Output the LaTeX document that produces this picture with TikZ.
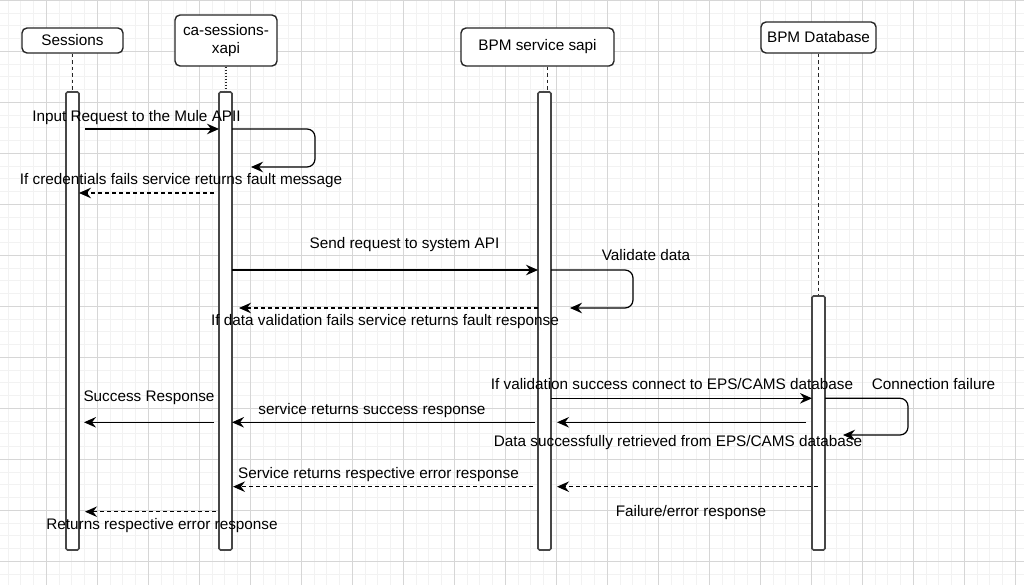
\documentclass[tikz,border=0pt]{standalone}
\usepackage{fontspec}
\setmainfont{Liberation Sans}
\usetikzlibrary{arrows.meta}

\tikzset{
  gridminor/.style={draw=black!5, line width=1pt},
  gridmajor/.style={draw=black!16, line width=1pt},
  actor/.style={draw=black!85, line width=1.4pt, rounded corners=5pt, fill=white,
    font=\fontsize{15.3}{18}\selectfont, align=center, inner sep=0pt},
  bar/.style={draw=black!72, line width=1.6pt, fill=white, rounded corners=1.5pt,
    minimum width=13pt, inner sep=0pt},
  lifeline/.style={draw=black!85, line width=1.1pt, dash pattern=on 3.5pt off 3pt},
  msg/.style={draw=black, line width=1.2pt, -{Stealth[length=12pt,width=10.5pt,inset=4pt]}},
  reply/.style={msg, dash pattern=on 4pt off 3pt},
  selfmsg/.style={msg, rounded corners=8pt},
  lbl/.style={font=\fontsize{15.3}{18}\selectfont, inner sep=0pt, anchor=base, text=black},
}

\begin{document}
\begin{tikzpicture}[x=1pt, y=-1pt]
        % === CANVAS AND GRID ===
        \useasboundingbox (0,0) rectangle (1024,585);
        \fill[white] (0,0) rectangle (1024,585);
        \foreach \i in {0,...,79} \draw[gridminor] ({8.05+12.75*\i},0) -- ({8.05+12.75*\i},585);
        \foreach \j in {0,...,45} \draw[gridminor] (0,{0.3+12.75*\j}) -- (1024,{0.3+12.75*\j});
        \foreach \i in {0,...,19} \draw[gridmajor] ({46.3+51*\i},0) -- ({46.3+51*\i},585);
        \foreach \j in {0,...,11} \draw[gridmajor] (0,{0.3+51*\j}) -- (1024,{0.3+51*\j});

        % === PARTICIPANTS ===
        \node[actor, minimum width=101pt, minimum height=25pt] (sess) at (72.5,40.5) {Sessions};
        \node[actor, minimum width=102pt, minimum height=51pt] (xapi) at (226,40.5) {ca-sessions-\\xapi};
        \node[actor, minimum width=153pt, minimum height=38pt] (sapi) at (537.5,47) {BPM service sapi};
        \node[actor, minimum width=115pt, minimum height=31pt] (db) at (818.5,37.5) {BPM Database};

        % === LIFELINES ===
        \coordinate (sesstop) at (72.5,92);
        \coordinate (xapitop) at (226,92);
        \coordinate (sapitop) at (547.5,92);
        \coordinate (dbtop) at (818.5,296);
        \draw[lifeline] (sess.south -| sesstop) -- (sesstop);
        \draw[lifeline, dash pattern=on 1pt off 2pt] (xapi.south -| xapitop) -- (xapitop);
        \draw[lifeline] (sapi.south -| sapitop) -- (sapitop);
        \draw[lifeline] (db.south -| dbtop) -- (dbtop);

        % === ACTIVATION BARS ===
        \node[bar, minimum height=458pt] (sessbar) at (72.5,321) {};
        \node[bar, minimum height=458pt] (xapibar) at (225.5,321) {};
        \node[bar, minimum height=458pt] (sapibar) at (544.5,321) {};
        \node[bar, minimum height=254pt] (dbbar) at (818.5,423) {};

        % === INPUT REQUEST ===
        \coordinate (in1) at (85,129);
        \coordinate (in2) at (219,129);
        \draw[msg] (in1) -- (in2);
        \node[lbl] (tin) at (136.5,121.7) {Input Request to the Mule APII};

        % === CREDENTIAL CHECK ===
        \coordinate (chk1) at (232,129);
        \coordinate (chk2) at (251,167);
        \draw[selfmsg] (chk1) -- ++(83,0) |- (chk2);
        \coordinate (flt1) at (214,193);
        \coordinate (flt2) at (79,193);
        \draw[reply] (flt1) -- (flt2);
        \node[lbl] (tflt) at (181,185) {If credentials fails service returns fault message};

        % === SYSTEM API REQUEST ===
        \coordinate (sys1) at (232,270);
        \coordinate (sys2) at (538,270);
        \draw[msg] (sys1) -- (sys2);
        \node[lbl] (tsys) at (404.5,248.3) {Send request to system API};

        % === VALIDATE DATA ===
        \coordinate (val1) at (551,270);
        \coordinate (val2) at (570,308);
        \draw[selfmsg] (val1) -- ++(82,0) |- (val2);
        \node[lbl] (tval) at (646,260.7) {Validate data};
        \coordinate (vf1) at (538,308);
        \coordinate (vf2) at (239,308);
        \draw[reply] (vf1) -- (vf2);
        \node[lbl] (tvf) at (385,325.7) {If data validation fails service returns fault response};

        % === DATABASE CONNECT ===
        \coordinate (con1) at (551,398.3);
        \coordinate (con2) at (812,398.3);
        \draw[msg] (con1) -- (con2);
        \node[lbl] (tcon) at (672,389.3) {If validation success connect to EPS/CAMS database};
        \coordinate (cf1) at (825,398.3);
        \coordinate (cf2) at (843,435);
        \draw[selfmsg] (cf1) -- ++(83,0) |- (cf2);
        \node[lbl] (tcf) at (933.5,389.3) {Connection failure};

        % === SUCCESS PATH ===
        \coordinate (dat1) at (806,422.3);
        \coordinate (dat2) at (557,422.3);
        \draw[msg] (dat1) -- (dat2);
        \node[lbl] (tdat) at (678,446.7) {Data successfully retrieved from EPS/CAMS database};
        \coordinate (ok1) at (535,422.3);
        \coordinate (ok2) at (232,422.3);
        \draw[msg] (ok1) -- (ok2);
        \node[lbl] (tok) at (372,414.3) {service returns success response};
        \coordinate (res1) at (214,422.3);
        \coordinate (res2) at (84,422.3);
        \draw[msg] (res1) -- (res2);
        \node[lbl] (tres) at (149,401) {Success Response};

        % === ERROR PATH ===
        \coordinate (fe1) at (818,486.7);
        \coordinate (fe2) at (557,486.7);
        \draw[reply] (fe1) -- (fe2);
        \node[lbl] (tfe) at (691,516.7) {Failure/error response};
        \coordinate (er1) at (533,486.7);
        \coordinate (er2) at (233,486.7);
        \draw[reply] (er1) -- (er2);
        \node[lbl] (ter) at (378.5,478.3) {Service returns respective error response};
        \coordinate (ret1) at (216,511.7);
        \coordinate (ret2) at (85,511.7);
        \draw[reply] (ret1) -- (ret2);
        \node[lbl] (tret) at (162,529.3) {Returns respective error response};

    \end{tikzpicture}
\end{document}
